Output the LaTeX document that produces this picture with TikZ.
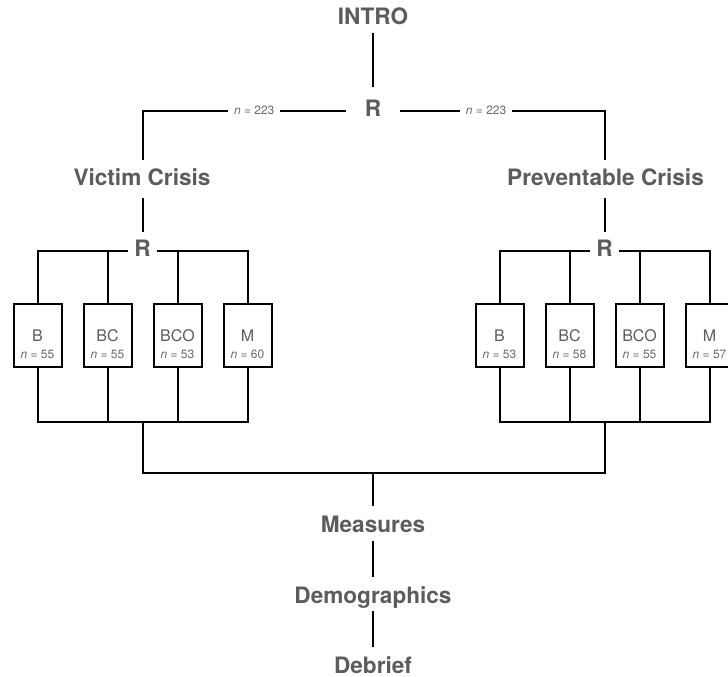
\documentclass[tikz,border=0pt]{standalone}
\usepackage{fontspec}
\setmainfont{TeX Gyre Heros}
\usetikzlibrary{calc}
\definecolor{lbl}{HTML}{5C5C5C}
\definecolor{nlbl}{HTML}{6A6A6A}
\tikzset{
  conn/.style={line width=2pt, black},
  big/.style={font=\fontsize{22.6}{22}\selectfont\bfseries, text=lbl, text height=16pt, text depth=5pt, inner sep=0pt, anchor=base},
  rnode/.style={big, inner xsep=6pt},
  grpbox/.style={draw, line width=2pt, minimum width=48pt, minimum height=63pt, inner sep=0pt},
  cond/.style={font=\fontsize{16}{16}\selectfont, text=lbl, inner sep=0pt, anchor=base},
  nsmall/.style={font=\fontsize{12}{12}\selectfont, text=nlbl, inner sep=0pt},
  nlab/.style={nsmall, anchor=center, fill=white, inner xsep=6pt, inner ysep=2pt},
}
\newcommand\condbox[4]{%
  \node[grpbox] (#1) at (#2,335.5) {};
  \node[cond] (#1-l) at (#2,341) {#3};
  \node[nsmall, anchor=base] (#1-n) at (#2,358) {\textit{n} = #4};
}
\begin{document}
\begin{tikzpicture}[x=1pt,y=-1pt]
\useasboundingbox (0,0) rectangle (728,677);
\clip (0,0) rectangle (728,677);
\fill[white] (0,0) rectangle (728,677);

\node[big] (intro) at (373,25) {INTRO};
\node[big, inner xsep=19pt] (r1) at (373,116) {R};
\node[big] (vc) at (142,185) {Victim Crisis};
\node[big] (pc) at (605.5,185) {Preventable Crisis};
\node[rnode] (rL) at (142.5,256) {R};
\node[rnode] (rR) at (604.5,256) {R};
\node[big] (meas) at (373,532) {Measures};
\node[big] (demo) at (373,603) {Demographics};
\node[big] (deb) at (373,673) {Debrief};

\condbox{lB}{37.5}{B}{55}
\condbox{lBC}{107.5}{BC}{55}
\condbox{lBCO}{177.5}{BCO}{53}
\condbox{lM}{247.5}{M}{60}
\condbox{rB}{499.5}{B}{53}
\condbox{rBC}{569.5}{BC}{58}
\condbox{rBCO}{639.5}{BCO}{55}
\condbox{rM}{709.5}{M}{57}

\coordinate (cL) at (rL.north |- r1.west);
\coordinate (cR) at (rR.north |- r1.east);
\coordinate (bL) at (142.5,422);
\coordinate (bR) at (604.5,422);
\coordinate (jn) at (373,473);

\draw[conn, shorten <=3pt, shorten >=13pt] (intro.south) -- (r1.north);
\draw[conn, shorten >=9pt] (r1.west) -- node[nlab, pos=0.45] (nL) {\textit{n} = 223} (cL) -- (cL |- vc.north);
\draw[conn, shorten >=9pt] (r1.east) -- node[nlab, pos=0.42] (nR) {\textit{n} = 223} (cR) -- (cR |- pc.north);
\draw[conn, shorten <=8pt, shorten >=8pt] (rL.north |- vc.south) -- (rL.north);
\draw[conn, shorten <=8pt, shorten >=8pt] (rR.north |- pc.south) -- (rR.north);

\draw[conn] (lB.north) |- (rL.west);
\draw[conn] (lBC.north) -- (lBC.north |- rL.west);
\draw[conn] (lBCO.north) -- (lBCO.north |- rL.east);
\draw[conn] (lM.north) |- (rL.east);
\draw[conn] (rB.north) |- (rR.west);
\draw[conn] (rBC.north) -- (rBC.north |- rR.west);
\draw[conn] (rBCO.north) -- (rBCO.north |- rR.east);
\draw[conn] (rM.north) |- (rR.east);

\draw[conn] (lB.south) |- (bL) -| (lM.south);
\draw[conn] (lBC.south) -- (lBC.south |- bL);
\draw[conn] (lBCO.south) -- (lBCO.south |- bL);
\draw[conn] (rB.south) |- (bR) -| (rM.south);
\draw[conn] (rBC.south) -- (rBC.south |- bR);
\draw[conn] (rBCO.south) -- (rBCO.south |- bR);
\draw[conn] (bL) |- (jn) -| (bR);

\draw[conn, shorten >=10pt] (jn) -- (meas.north);
\draw[conn, shorten <=4pt, shorten >=10pt] (meas.south) -- (demo.north);
\draw[conn, shorten <=3pt, shorten >=10pt] (demo.south) -- (deb.north);
\end{tikzpicture}
\end{document}
